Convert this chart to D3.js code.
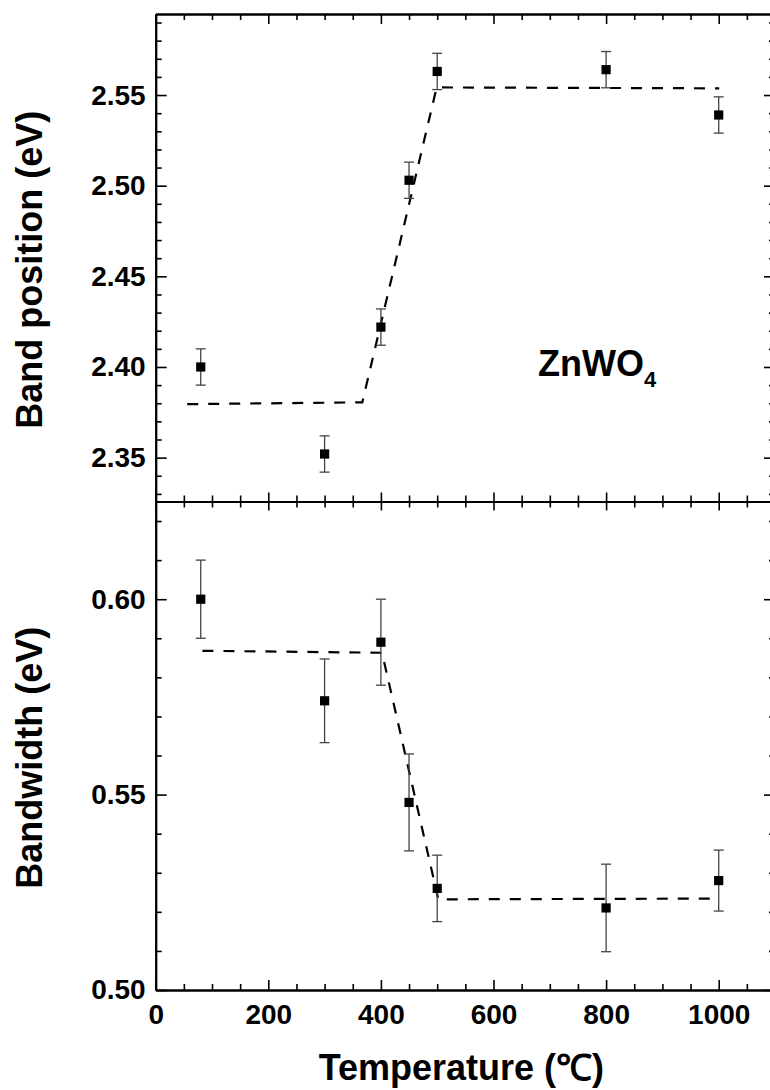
<!DOCTYPE html>
<html>
<head>
<meta charset="utf-8">
<script src="https://cdn.jsdelivr.net/npm/d3@7"></script>
<style>
  html, body { margin: 0; padding: 0; background: #fff; }
  svg { display: block; }
  text { font-family: "Liberation Sans", Arial, Helvetica, sans-serif; font-weight: bold; fill: #000; }
</style>
</head>
<body>
<svg id="chart" width="770" height="1090"></svg>
<script>
// Annealing temperature (°C) of the samples
const temps = [80, 300, 400, 450, 500, 800, 1000];

// Upper panel: band position (eV) with error
const bandPosition    = [2.400, 2.352, 2.422, 2.503, 2.563, 2.564, 2.539];
const bandPositionErr = [0.010, 0.010, 0.010, 0.010, 0.010, 0.010, 0.010];

// Lower panel: bandwidth (eV) with error
const bandwidth    = [0.600, 0.574, 0.589, 0.548, 0.526, 0.521, 0.528];
const bandwidthErr = [0.010, 0.0107, 0.011, 0.0124, 0.0085, 0.0112, 0.0078];

// Dashed guide lines (piecewise trend)
const positionFitT = [56, 367, 499, 1001];
const positionFitV = [2.3795, 2.3805, 2.5542, 2.5537];
const widthFitT    = [83, 402, 502, 1002];
const widthFitV    = [0.5868, 0.5863, 0.5232, 0.5234];

// Tick values
const xTicks        = [0, 200, 400, 600, 800, 1000];
const positionTicks = [2.35, 2.40, 2.45, 2.50, 2.55];
const widthTicks    = [0.50, 0.55, 0.60];

// Axis titles
const xTitle        = "Temperature (\u2103)";
const positionTitle = "Band position (eV)";
const widthTitle    = "Bandwidth (eV)";

const svg = d3.select("#chart");

const plotL = 155.7, plotR = 775, plotT = 14, plotM = 501.5, plotB = 990;

const x = d3.scaleLinear().domain([0, 1100]).range([plotL, plotR]);
const yTop = d3.scaleLinear().domain([2.3258, 2.5947]).range([plotM, plotT]);
const yBot = d3.scaleLinear().domain([0.5, 0.625]).range([plotB, plotM]);

const xMinor = d3.range(50, 1100, 50).filter(v => v % 200 !== 0);
const posMinor = d3.range(233, 260, 1).filter(v => v % 5 !== 0).map(v => v / 100);
const widMinor = d3.range(51, 63, 1).filter(v => v % 5 !== 0).map(v => v / 100);

function styleAxis(g, fontSize) {
  g.attr("font-family", null).attr("font-size", null);
  g.selectAll(".domain").attr("stroke", "#000").attr("stroke-width", 2);
  g.selectAll(".tick line").attr("stroke", "#000").attr("stroke-width", 1.6);
  g.selectAll(".tick text").style("font-size", fontSize + "px");
}

function addAxis(axis, tx, ty, fontSize) {
  const g = svg.append("g").attr("transform", `translate(${tx},${ty})`).call(axis);
  styleAxis(g, fontSize || 28);
  return g;
}

// ----- x axes (top frame, shared middle line, bottom) -----
addAxis(d3.axisTop(x).tickValues(xTicks).tickSize(-10).tickSizeOuter(0).tickFormat(""), 0, plotT);
addAxis(d3.axisTop(x).tickValues(xMinor).tickSize(-6).tickSizeOuter(0).tickFormat(""), 0, plotT);

addAxis(d3.axisBottom(x).tickValues(xTicks).tickSize(-9).tickSizeOuter(0).tickFormat(""), 0, plotM);
addAxis(d3.axisBottom(x).tickValues(xMinor).tickSize(-6).tickSizeOuter(0).tickFormat(""), 0, plotM);
addAxis(d3.axisTop(x).tickValues(xTicks).tickSize(-9).tickSizeOuter(0).tickFormat(""), 0, plotM);
addAxis(d3.axisTop(x).tickValues(xMinor).tickSize(-6).tickSizeOuter(0).tickFormat(""), 0, plotM);

addAxis(d3.axisBottom(x).tickValues(xTicks).tickSize(-10).tickSizeOuter(0).tickPadding(14).tickFormat(d3.format("d")), 0, plotB);
addAxis(d3.axisBottom(x).tickValues(xMinor).tickSize(-6).tickSizeOuter(0).tickFormat(""), 0, plotB);

// ----- y axes, upper panel -----
addAxis(d3.axisLeft(yTop).tickValues(positionTicks).tickSize(-11).tickSizeOuter(0).tickPadding(10).tickFormat(d3.format(".2f")), plotL, 0);
addAxis(d3.axisLeft(yTop).tickValues(posMinor).tickSize(-6).tickSizeOuter(0).tickFormat(""), plotL, 0);
addAxis(d3.axisRight(yTop).tickValues(positionTicks).tickSize(-11).tickSizeOuter(0).tickFormat(""), plotR, 0);
addAxis(d3.axisRight(yTop).tickValues(posMinor).tickSize(-6).tickSizeOuter(0).tickFormat(""), plotR, 0);

// ----- y axes, lower panel -----
addAxis(d3.axisLeft(yBot).tickValues(widthTicks).tickSize(-11).tickSizeOuter(0).tickPadding(10).tickFormat(d3.format(".2f")), plotL, 0);
addAxis(d3.axisLeft(yBot).tickValues(widMinor).tickSize(-6).tickSizeOuter(0).tickFormat(""), plotL, 0);
addAxis(d3.axisRight(yBot).tickValues(widthTicks).tickSize(-11).tickSizeOuter(0).tickFormat(""), plotR, 0);
addAxis(d3.axisRight(yBot).tickValues(widMinor).tickSize(-6).tickSizeOuter(0).tickFormat(""), plotR, 0);

// ----- data layers -----
function drawPanel(yScale, vals, errs, fitT, fitV) {
  const g = svg.append("g");
  const fit = fitT.map((t, i) => [t, fitV[i]]);
  g.append("path")
    .datum(fit)
    .attr("fill", "none")
    .attr("stroke", "#000")
    .attr("stroke-width", 2.2)
    .attr("stroke-dasharray", "11,10")
    .attr("d", d3.line().x(d => x(d[0])).y(d => yScale(d[1])));

  const pts = temps.map((t, i) => ({ t, v: vals[i], e: errs[i] }));
  const eb = g.append("g").attr("stroke", "#444").attr("stroke-width", 1.3);
  eb.selectAll("line.v").data(pts).join("line").attr("class", "v")
    .attr("x1", d => x(d.t)).attr("x2", d => x(d.t))
    .attr("y1", d => yScale(d.v - d.e)).attr("y2", d => yScale(d.v + d.e));
  eb.selectAll("line.hi").data(pts).join("line").attr("class", "hi")
    .attr("x1", d => x(d.t) - 5).attr("x2", d => x(d.t) + 5)
    .attr("y1", d => yScale(d.v + d.e)).attr("y2", d => yScale(d.v + d.e));
  eb.selectAll("line.lo").data(pts).join("line").attr("class", "lo")
    .attr("x1", d => x(d.t) - 5).attr("x2", d => x(d.t) + 5)
    .attr("y1", d => yScale(d.v - d.e)).attr("y2", d => yScale(d.v - d.e));

  g.selectAll("rect").data(pts).join("rect")
    .attr("x", d => x(d.t) - 4.6).attr("y", d => yScale(d.v) - 4.6)
    .attr("width", 9.2).attr("height", 9.2)
    .attr("fill", "#000");
}

drawPanel(yTop, bandPosition, bandPositionErr, positionFitT, positionFitV);
drawPanel(yBot, bandwidth, bandwidthErr, widthFitT, widthFitV);

// ----- titles -----
svg.append("text")
  .attr("transform", `translate(42,${(plotT + plotM) / 2 + 12}) rotate(-90)`)
  .attr("text-anchor", "middle")
  .style("font-size", "36px")
  .text(positionTitle);

svg.append("text")
  .attr("transform", `translate(42,${(plotM + plotB) / 2 + 12}) rotate(-90)`)
  .attr("text-anchor", "middle")
  .style("font-size", "36px")
  .text(widthTitle);

svg.append("text")
  .attr("x", (plotL + plotR) / 2 - 4)
  .attr("y", 1080)
  .attr("text-anchor", "middle")
  .style("font-size", "36px")
  .text(xTitle);

// Compound label in the upper panel
const lab = svg.append("text")
  .attr("x", 538).attr("y", 376)
  .style("font-size", "36px");
lab.append("tspan").text("ZnWO");
lab.append("tspan").attr("dy", 11).style("font-size", "22px").text("4");
</script>
</body>
</html>
